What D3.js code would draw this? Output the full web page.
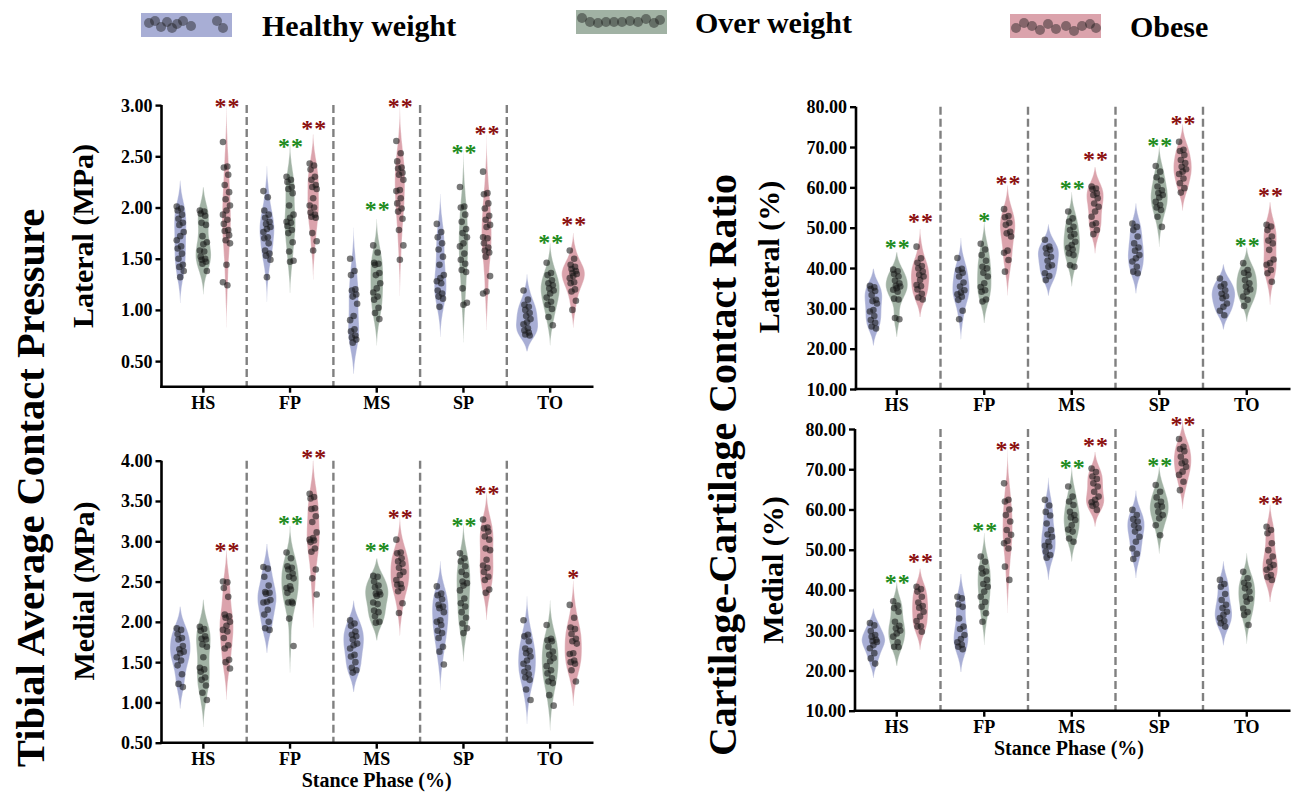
<!DOCTYPE html>
<html><head><meta charset="utf-8">
<script src="https://cdn.jsdelivr.net/npm/d3@7"></script>
<style>body{margin:0;background:#fff} svg{display:block} text{font-family:'Liberation Serif','Times New Roman',Times,serif;font-weight:bold}</style>
</head><body><svg id="chart" width="1300" height="792"></svg>
<script>
// ---------------- DATA ----------------
const phases = ["HS", "FP", "MS", "SP", "TO"];
const groupLabels = ["Healthy weight", "Over weight", "Obese"];
const mpaLatTicks = [0.5, 1.0, 1.5, 2.0, 2.5, 3.0];
const mpaMedTicks = [0.5, 1.0, 1.5, 2.0, 2.5, 3.0, 3.5, 4.0];
const pctTicks = [10, 20, 30, 40, 50, 60, 70, 80];

// Tibial average contact pressure, lateral (MPa) – one list per phase
const latMPaHealthy = [
  [2.01,1.99,1.97,1.93,1.89,1.85,1.83,1.76,1.72,1.68,1.62,1.60,1.55,1.50,1.44,1.42,1.38,1.32],
  [2.16,2.10,1.97,1.93,1.90,1.86,1.84,1.81,1.79,1.76,1.71,1.70,1.65,1.58,1.55,1.53,1.49,1.32],
  [1.50,1.38,1.34,1.20,1.19,1.15,1.13,1.06,0.94,0.90,0.81,0.79,0.75,0.73,0.71,0.68],
  [1.84,1.76,1.71,1.65,1.59,1.52,1.44,1.34,1.31,1.28,1.26,1.19,1.16,1.13,1.11,1.03],
  [1.19,1.10,1.05,1.03,1.00,0.97,0.94,0.91,0.88,0.86,0.82,0.80,0.78,0.76,0.75]
];
const latMPaOver = [
  [1.97,1.96,1.94,1.92,1.85,1.83,1.72,1.66,1.64,1.58,1.57,1.52,1.50,1.49,1.47,1.45,1.38],
  [2.30,2.27,2.25,2.20,2.18,2.14,2.02,1.93,1.90,1.86,1.85,1.82,1.78,1.75,1.66,1.57,1.48,1.47],
  [1.63,1.56,1.46,1.45,1.44,1.36,1.34,1.26,1.21,1.17,1.13,1.10,1.02,0.97,0.91],
  [2.20,2.01,2.00,1.93,1.86,1.79,1.75,1.71,1.65,1.62,1.55,1.49,1.45,1.39,1.37,1.21,1.07,1.05],
  [1.46,1.36,1.34,1.29,1.26,1.24,1.21,1.19,1.16,1.12,1.08,1.05,1.01,0.93,0.85]
];
const latMPaObese = [
  [2.64,2.40,2.39,2.32,2.22,2.15,2.08,2.02,1.97,1.93,1.88,1.84,1.78,1.77,1.73,1.68,1.65,1.44,1.27,1.24],
  [2.43,2.41,2.37,2.30,2.27,2.22,2.20,2.18,2.09,2.02,2.00,1.95,1.93,1.91,1.90,1.75,1.67,1.58],
  [2.65,2.53,2.45,2.39,2.38,2.34,2.32,2.27,2.17,2.16,2.09,2.04,1.99,1.96,1.89,1.78,1.63,1.49],
  [2.35,2.14,2.13,2.04,1.99,1.92,1.88,1.83,1.81,1.71,1.70,1.65,1.61,1.58,1.56,1.52,1.33,1.18,1.16],
  [1.58,1.50,1.44,1.42,1.40,1.38,1.36,1.35,1.33,1.31,1.27,1.26,1.20,1.18,1.09,1.00]
];
const latMPaOverStars = ["", "**", "**", "**", "**"];
const latMPaOverStarY = [null, 2.63, 2.02, 2.58, 1.70];
const latMPaObeseStars = ["**", "**", "**", "**", "**"];
const latMPaObeseStarY = [3.03, 2.81, 3.03, 2.76, 1.87];

// Tibial average contact pressure, medial (MPa)
const medMPaHealthy = [
  [1.92,1.90,1.85,1.80,1.78,1.70,1.66,1.63,1.61,1.56,1.52,1.46,1.35,1.23,1.19],
  [2.68,2.66,2.56,2.45,2.37,2.36,2.35,2.27,2.25,2.24,2.15,2.09,2.00,1.92,1.90],
  [2.02,1.98,1.95,1.88,1.84,1.82,1.78,1.73,1.71,1.67,1.59,1.57,1.50,1.43,1.40,1.37],
  [2.44,2.35,2.33,2.28,2.21,2.19,2.17,2.12,2.02,2.00,1.96,1.89,1.86,1.80,1.69,1.63,1.47],
  [2.02,1.84,1.82,1.76,1.67,1.64,1.61,1.57,1.52,1.48,1.43,1.38,1.35,1.31,1.28,1.16,1.03]
];
const medMPaOver = [
  [1.94,1.91,1.89,1.82,1.79,1.78,1.72,1.69,1.56,1.43,1.41,1.38,1.31,1.28,1.21,1.12,1.03],
  [2.86,2.79,2.69,2.67,2.65,2.60,2.56,2.54,2.44,2.42,2.40,2.36,2.25,2.24,2.23,2.04,1.70],
  [2.57,2.56,2.50,2.45,2.43,2.37,2.35,2.34,2.32,2.24,2.22,2.14,2.12,2.07,2.00,1.99],
  [2.85,2.79,2.75,2.69,2.62,2.58,2.50,2.48,2.45,2.39,2.29,2.23,2.19,2.12,2.05,1.98,1.92,1.86],
  [1.96,1.79,1.77,1.76,1.69,1.63,1.59,1.55,1.51,1.45,1.40,1.36,1.30,1.26,1.24,1.09,0.96]
];
const medMPaObese = [
  [2.50,2.49,2.42,2.31,2.09,2.07,2.05,2.00,1.95,1.90,1.88,1.80,1.71,1.67,1.53,1.50,1.42],
  [3.59,3.55,3.53,3.41,3.40,3.31,3.24,3.11,3.04,3.02,3.01,2.99,2.91,2.87,2.65,2.54,2.34],
  [3.02,2.86,2.85,2.79,2.75,2.72,2.67,2.62,2.58,2.52,2.47,2.46,2.42,2.38,2.23,2.11],
  [3.27,3.17,3.16,3.12,3.06,3.02,2.91,2.89,2.77,2.70,2.67,2.62,2.56,2.52,2.40,2.36],
  [2.21,2.05,1.93,1.91,1.85,1.79,1.76,1.73,1.61,1.60,1.52,1.50,1.48,1.40,1.26]
];
const medMPaOverStars = ["", "**", "**", "**", ""];
const medMPaOverStarY = [null, 3.27, 2.93, 3.24, null];
const medMPaObeseStars = ["**", "**", "**", "**", "*"];
const medMPaObeseStarY = [2.93, 4.09, 3.35, 3.64, 2.60];

// Cartilage-cartilage contact ratio, lateral (%)
const latPctHealthy = [
  [35.6,35.2,34.8,34.3,33.3,32.1,31.8,31.2,29.6,29.2,28.1,27.1,26.4,25.5,25.0],
  [42.5,39.8,39.5,38.8,37.9,36.4,35.4,34.5,33.9,33.5,32.9,32.1,29.4,27.3],
  [47.0,45.3,44.9,44.5,43.6,42.8,41.8,40.7,40.3,38.7,38.0,37.0],
  [51.0,50.2,49.4,47.8,46.1,45.1,44.3,43.2,42.4,41.6,40.3,39.1,38.7],
  [37.4,36.0,35.4,34.5,33.6,33.0,32.5,31.2,30.4,29.4,28.3]
];
const latPctOver = [
  [39.6,39.2,38.5,37.9,36.9,36.2,35.6,35.4,35.0,34.6,34.1,32.4,32.2,27.6,27.3],
  [46.0,44.6,43.2,41.8,40.3,39.9,38.8,37.9,36.2,35.3,34.5,34.1,32.2,31.7],
  [54.0,52.3,51.5,50.2,49.4,48.4,47.8,46.5,45.7,45.0,44.6,43.6,43.2,40.7,40.3],
  [65.3,63.9,62.5,61.7,60.2,59.3,58.6,58.1,57.5,56.4,55.6,55.0,54.4,52.7,50.2],
  [41.2,39.5,38.8,38.3,37.0,36.2,35.4,34.7,34.1,32.9,32.1,30.6]
];
const latPctObese = [
  [45.3,42.4,41.3,40.5,39.9,39.1,38.3,37.9,37.0,35.8,35.5,34.7,33.6,32.7,32.2],
  [54.6,52.9,52.6,51.2,50.7,49.0,48.6,47.8,44.3,43.8,42.0,39.1],
  [60.2,59.7,59.5,58.5,58.1,57.3,56.0,55.2,54.0,52.7,51.1,50.7,49.4,48.4],
  [71.3,69.3,69.0,68.0,66.8,66.0,65.1,64.5,63.9,63.3,62.2,61.0,59.8,58.7],
  [50.7,50.3,49.4,47.8,46.8,46.1,44.5,42.1,41.2,40.8,39.5,38.7,36.6]
];
const latPctOverStars = ["**", "*", "**", "**", "**"];
const latPctOverStarY = [46.0, 52.7, 60.8, 71.3, 46.5];
const latPctObeseStars = ["**", "**", "**", "**", "**"];
const latPctObeseStarY = [52.6, 62.0, 67.8, 76.9, 58.9];

// Cartilage-cartilage contact ratio, medial (%)
const medPctHealthy = [
  [31.8,31.2,29.8,28.8,28.4,27.6,27.3,27.1,26.3,25.5,24.3,23.0,21.7],
  [38.3,37.9,36.4,35.8,32.9,30.9,30.3,28.8,27.8,27.0,26.4,25.9,25.3],
  [62.4,61.0,59.4,58.5,56.5,54.9,53.8,53.2,52.0,51.0,50.8,49.5,48.7,48.0],
  [59.9,58.6,57.6,57.0,56.1,55.4,54.5,53.2,52.0,50.3,49.0,47.7],
  [42.5,41.5,40.8,39.0,37.5,36.3,35.5,34.6,33.8,33.0,32.3,31.7,30.9]
];
const medPctOver = [
  [37.2,36.1,35.5,34.6,32.1,31.1,30.5,29.9,29.2,28.4,27.0,25.9,25.8],
  [48.3,47.0,45.4,44.6,44.1,42.5,41.5,40.8,39.6,38.3,37.0,35.8,34.2,32.1],
  [65.7,63.2,62.0,61.1,59.4,58.6,58.0,57.4,56.1,55.0,54.5,52.8,52.0],
  [66.1,64.4,63.0,61.9,61.0,60.7,59.4,58.6,57.8,56.1,53.6],
  [44.5,42.9,41.8,41.2,40.4,39.6,38.3,37.8,37.1,35.4,34.5,33.8,31.3]
];
const medPctObese = [
  [40.8,40.2,39.6,38.3,36.9,36.0,35.6,34.6,33.4,32.3,31.0,30.9,29.6],
  [66.5,62.4,62.0,60.0,58.6,57.0,54.9,53.7,52.2,51.6,50.3,45.8,42.5],
  [70.2,69.3,68.2,67.6,66.5,65.7,64.4,63.2,62.4,61.8,61.3,60.9,59.9],
  [77.5,75.6,75.0,74.5,73.1,71.9,71.5,70.6,69.4,68.6,66.9,64.8],
  [55.7,54.9,54.1,51.6,49.9,48.3,47.0,46.2,45.6,45.0,43.7,43.2,42.5]
];
const medPctOverStars = ["**", "**", "**", "**", ""];
const medPctOverStarY = [42.9, 55.7, 71.5, 72.0, null];
const medPctObeseStars = ["**", "**", "**", "**", "**"];
const medPctObeseStarY = [48.0, 75.9, 77.0, 82.2, 62.4];

// ---------------- DRAWING ----------------
const FONT = "'Liberation Serif','Times New Roman',Times,serif";
const svg = d3.select("#chart");
svg.append("rect").attr("width", 1300).attr("height", 792).attr("fill", "#fff");

const groupKeys = ["healthy", "over", "obese"];
const fillColor = d3.scaleOrdinal().domain(groupKeys).range(["#a8aed5", "#a1b2a4", "#dba3ac"]);
const starColor = d3.scaleOrdinal().domain(["over", "obese"]).range(["#1e8c1e", "#8b1010"]);

function kde(values) {
  const n = values.length;
  const sd = d3.deviation(values);
  const bw = sd * Math.pow(n, -0.2);
  const lo = d3.min(values) - 2 * bw, hi = d3.max(values) + 2 * bw;
  return d3.range(0, 121).map(i => {
    const g = lo + (hi - lo) * i / 120;
    const dval = d3.mean(values, v => Math.exp(-0.5 * ((g - v) / bw) ** 2)) / (bw * Math.sqrt(2 * Math.PI));
    return [g, dval];
  });
}

const panels = [
  { healthy: latMPaHealthy, over: latMPaOver, obese: latMPaObese,
    overStars: latMPaOverStars, overStarY: latMPaOverStarY, obeseStars: latMPaObeseStars, obeseStarY: latMPaObeseStarY,
    domain: [0.25, 3.0], ticks: mpaLatTicks, x0: 160, x1: 593.5, axisX: 161.5, yTop: 105.1, yBot: 386.7,
    ylabel: "Lateral (MPa)", ylx: 82, yly: 236, xlabel: null },
  { healthy: medMPaHealthy, over: medMPaOver, obese: medMPaObese,
    overStars: medMPaOverStars, overStarY: medMPaOverStarY, obeseStars: medMPaObeseStars, obeseStarY: medMPaObeseStarY,
    domain: [0.5, 4.0], ticks: mpaMedTicks, x0: 160, x1: 593.5, axisX: 161.5, yTop: 460.7, yBot: 742.7,
    ylabel: "Medial (MPa)", ylx: 83, yly: 591, xlabel: "Stance Phase (%)", xlx: 376.7, xly: 787 },
  { healthy: latPctHealthy, over: latPctOver, obese: latPctObese,
    overStars: latPctOverStars, overStarY: latPctOverStarY, obeseStars: latPctObeseStars, obeseStarY: latPctObeseStarY,
    domain: [10, 80], ticks: pctTicks, x0: 853, x1: 1290.5, axisX: 856, yTop: 106.7, yBot: 389,
    ylabel: "Lateral (%)", ylx: 768, yly: 257, xlabel: null },
  { healthy: medPctHealthy, over: medPctOver, obese: medPctObese,
    overStars: medPctOverStars, overStarY: medPctOverStarY, obeseStars: medPctObeseStars, obeseStarY: medPctObeseStarY,
    domain: [10, 80], ticks: pctTicks, x0: 853, x1: 1290.5, axisX: 855, yTop: 429, yBot: 710.7,
    ylabel: "Medial (%)", ylx: 772, yly: 570, xlabel: "Stance Phase (%)", xlx: 1069, xly: 755 }
];

function serif(sel, size) {
  return sel.style("font-family", FONT).style("font-weight", "bold").style("font-size", size + "px");
}

panels.forEach(p => {
  const x = d3.scaleBand().domain(phases).range([p.x0, p.x1]).padding(0);
  const y = d3.scaleLinear().domain(p.domain).range([p.yBot, p.yTop]);
  const bwX = x.bandwidth();
  const sub = d3.scaleBand().domain(groupKeys).range([-bwX * 0.4, bwX * 0.4]);
  const g = svg.append("g");

  // dashed separators
  phases.slice(1).forEach(ph => {
    g.append("line")
      .attr("x1", x(ph)).attr("x2", x(ph))
      .attr("y1", p.yTop).attr("y2", p.yBot)
      .attr("stroke", "#808080").attr("stroke-width", 2.4)
      .attr("stroke-dasharray", "8,4");
  });

  const dens = [];
  groupKeys.forEach(k => p[k].forEach((vals, i) => {
    dens.push({ k, i, vals, curve: kde(vals),
      cx: x(phases[i]) + bwX / 2 + sub(k) + sub.bandwidth() / 2 });
  }));
  const maxD = d3.max(dens, d => d3.max(d.curve, c => c[1]));
  const w = d3.scaleLinear().domain([0, maxD]).range([0, sub.bandwidth() / 2]);

  dens.forEach(d => {
    const area = d3.area()
      .x0(c => d.cx - w(c[1])).x1(c => d.cx + w(c[1]))
      .y(c => y(c[0])).curve(d3.curveCatmullRom);
    g.append("path").attr("d", area(d.curve))
      .attr("fill", fillColor(d.k))
      .attr("stroke", "#ffffff").attr("stroke-opacity", 0.5).attr("stroke-width", 0.8);
  });
  dens.forEach(d => {
    d.vals.forEach((v, j) => {
      const jit = (((j * 5) % 9) / 8 - 0.5) * 7;
      g.append("circle").attr("cx", d.cx + jit).attr("cy", y(v)).attr("r", 3.3)
        .attr("fill", "#161616").attr("fill-opacity", 0.58);
    });
  });

  // stars
  [["over", p.overStars, p.overStarY], ["obese", p.obeseStars, p.obeseStarY]].forEach(([k, labels, ys]) => {
    labels.forEach((lab, i) => {
      if (!lab) return;
      const cx = x(phases[i]) + bwX / 2 + sub(k) + sub.bandwidth() / 2;
      serif(g.append("text"), 24).attr("x", cx + (lab.length > 1 ? 1 : 0)).attr("y", y(ys[i]) + 11.5)
        .attr("text-anchor", "middle")
        .attr("letter-spacing", lab.length > 1 ? 1 : 0)
        .attr("fill", starColor(k)).text(lab);
    });
  });

  // y axis
  const yAxis = d3.axisLeft(y).tickValues(p.ticks).tickFormat(d3.format(".2f"))
    .tickSize(6).tickSizeOuter(0).tickPadding(3);
  const ya = g.append("g").attr("transform", `translate(${p.axisX},0)`).call(yAxis);
  ya.attr("font-family", null).attr("font-size", null);
  ya.select(".domain").remove();
  ya.selectAll(".tick line").attr("stroke", "#000").attr("stroke-width", 2.4);
  serif(ya.selectAll(".tick text"), 18).attr("fill", "#000").attr("dy", null).attr("y", 6);
  g.append("line").attr("x1", p.axisX).attr("x2", p.axisX)
    .attr("y1", p.yBot + 1.2).attr("y2", p.yTop).attr("stroke", "#000").attr("stroke-width", 2.6);

  // x axis
  const xAxis = d3.axisBottom(x).tickSize(6).tickSizeOuter(0);
  const xa = g.append("g").attr("transform", `translate(0,${p.yBot})`).call(xAxis);
  xa.attr("font-family", null).attr("font-size", null);
  xa.select(".domain").remove();
  xa.selectAll(".tick line").attr("stroke", "#000").attr("stroke-width", 2.4);
  serif(xa.selectAll(".tick text"), 18).attr("fill", "#000").attr("dy", null).attr("y", 22);
  g.append("line").attr("x1", p.axisX - 1.3).attr("x2", p.x1)
    .attr("y1", p.yBot).attr("y2", p.yBot).attr("stroke", "#000").attr("stroke-width", 2.6);

  // axis titles
  serif(g.append("text"), 30).attr("transform", `translate(${p.ylx},${p.yly}) rotate(-90)`)
    .attr("text-anchor", "middle").attr("dy", "0.35em")
    .text(p.ylabel);
  if (p.xlabel) {
    serif(g.append("text"), 20).attr("x", p.xlx).attr("y", p.xly).attr("text-anchor", "middle")
      .text(p.xlabel);
  }
});

// big titles
serif(svg.append("text"), 40.5).attr("transform", "translate(30,488) rotate(-90)")
  .attr("text-anchor", "middle").attr("dy", "0.35em")
  .text("Tibial Average Contact Pressure");
serif(svg.append("text"), 40).attr("transform", "translate(722,465) rotate(-90)")
  .attr("text-anchor", "middle").attr("dy", "0.35em")
  .text("Cartilage-Cartilage Contact Ratio");

// legend
const legendPos = [
  { rx: 141, ry: 13, tx: 262, ty: 36, dots: [[8,10],[14,8],[20,14],[26,9],[31,15],[36,11],[42,8],[50,13],[76,8],[82,15]] },
  { rx: 576, ry: 10, tx: 695, ty: 33, dots: [[6,8],[14,12],[22,13],[30,12],[38,12],[46,12],[54,11],[62,12],[70,9],[78,13],[84,10]] },
  { rx: 1010, ry: 14, tx: 1130, ty: 37, dots: [[6,14],[14,9],[22,12],[30,16],[38,10],[46,15],[56,12],[64,17],[72,12],[80,10],[86,14]] }
];
groupKeys.forEach((k, i) => {
  const L = legendPos[i];
  const lg = svg.append("g");
  lg.append("rect").attr("x", L.rx).attr("y", L.ry).attr("width", 91).attr("height", 24)
    .attr("fill", fillColor(k));
  L.dots.forEach(([dx, dy]) => lg.append("circle").attr("cx", L.rx + dx).attr("cy", L.ry + dy)
    .attr("r", 5).attr("fill", "#1a1a1a").attr("fill-opacity", 0.45));
  serif(lg.append("text"), 30).attr("x", L.tx).attr("y", L.ty).text(groupLabels[i]);
});
</script>
</body></html>
